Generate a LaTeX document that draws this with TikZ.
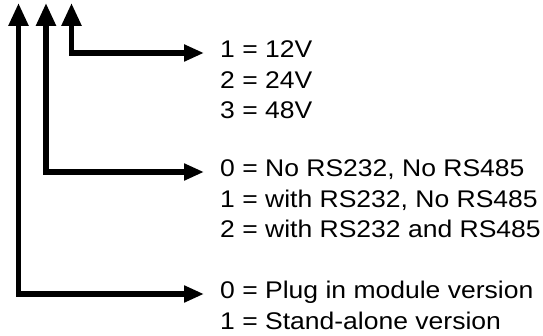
\documentclass[tikz,border=0pt]{standalone}
\usepackage{fontspec}
\setmainfont{Liberation Sans}
\newfontfamily\itemfont[FakeStretch=1.1]{Liberation Sans}
\usetikzlibrary{positioning, arrows.meta}

\begin{document}
\begin{tikzpicture}[
        x=1pt, y=-1pt,
        item/.style={
            inner sep=0pt,
            anchor=west,
            text height=17pt,
            text depth=7pt,
            font=\itemfont\fontsize{24.1}{29}\selectfont
        },
        link/.style={
            {Triangle[length=23pt,width=19pt]}-{Triangle[length=20pt,width=16pt]},
            line width=5.5pt,
            shorten >=16pt
        }
    ]
    \useasboundingbox (0,0) rectangle (543,336);

    % Free ends at the top
    \coordinate (tipA) at (18.5,3);
    \coordinate (tipB) at (46,3);
    \coordinate (tipC) at (71.5,3);

    % Voltage
    \node[item] (volt1) at (220,53) {1 = 12V};
    \node[item, below=6pt of volt1.south west, anchor=north west] (volt2) {2 = 24V};
    \node[item, below=6pt of volt2.south west, anchor=north west] (volt3) {3 = 48V};

    % Interfaces
    \node[item] (com0) at (220,172) {0 = No RS232, No RS485};
    \node[item, below=6pt of com0.south west, anchor=north west] (com1) {1 = with RS232, No RS485};
    \node[item, below=6pt of com1.south west, anchor=north west] (com2) {2 = with RS232 and RS485};

    % Version
    \node[item] (ver0) at (220,294) {0 = Plug in module version};
    \node[item, below=6pt of ver0.south west, anchor=north west] (ver1) {1 = Stand-alone version};

    % Arrows
    \draw[link] (tipC) |- (volt1.west);
    \draw[link] (tipB) |- (com0.west);
    \draw[link] (tipA) |- (ver0.west);

\end{tikzpicture}
\end{document}
